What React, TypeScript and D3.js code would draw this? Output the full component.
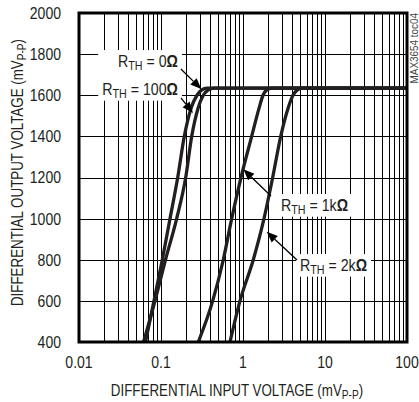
import React, { useEffect, useRef } from "react";
import * as d3 from "d3";

// tick labels
const xTickLabels = ["0.01", "0.1", "1", "10", "100"];
const yTickLabels = ["400", "600", "800", "1000", "1200", "1400", "1600", "1800", "2000"];

// output level (mVp-p) shared by the curves
const outLevels = [400, 600, 800, 1000, 1200, 1400, 1536, 1600, 1625, 1635, 1635];

// input (mVp-p) per source resistance
const rth0In = [0.0647, 0.0821, 0.1037, 0.1288, 0.1599, 0.1923, 0.2322, 0.2748, 0.3118, 0.3639, 100];
const rth100In = [0.0612, 0.0845, 0.1135, 0.1553, 0.2001, 0.2368, 0.2826, 0.328, 0.374, 0.443, 100];
const rth1kIn = [0.2851, 0.427, 0.575, 0.728, 0.9454, 1.276, 1.567, 1.754, 1.935, 2.258, 100];
const rth2kIn = [0.694, 0.919, 1.335, 1.803, 2.301, 2.884, 3.539, 4.072, 4.555, 5.24, 100];

// annotations
const labelText = ["0Ω", "100Ω", "1kΩ", "2kΩ"];
const labelIn = [0.161, 0.161, 2.905, 4.955];
const labelOut = [1737, 1601, 1037, 745];
const labelAnchor = ["end", "end", "start", "start"];
const labelGroup = [0, 0, 1, 2];
const tailIn = [0.175, 0.175, 2.195, 4.555];
const tailOut = [1728, 1587, 1110, 799];
const tipIn = [0.31, 0.2455, 1.01, 1.945];
const tipOut = [1630, 1514, 1240, 936];

const font = "'Liberation Sans', Arial, sans-serif";
const ink = "#231f20";

// narrow text: squeeze horizontally around its anchor point
const addText = (parent: any, tx: number, ty: number, sx: number, size: number, anchor: string, rotate = 0) =>
  parent
    .append("text")
    .attr("transform", `translate(${tx},${ty})${rotate ? ` rotate(${rotate})` : ""} scale(${sx},1)`)
    .attr("text-anchor", anchor)
    .attr("font-family", font)
    .attr("font-size", size)
    .attr("fill", ink);

const App = () => {
  const ref = useRef<SVGSVGElement>(null);

  useEffect(() => {
    const svg = d3.select(ref.current);
    svg.selectAll("*").remove();

    const left = 79, right = 407, top = 13, bottom = 342;

    const x = d3.scaleLog().domain([0.01, 100]).range([left, right]);
    const y = d3.scaleLinear().domain([400, 2000]).range([bottom, top]);

    svg.append("rect").attr("width", 419).attr("height", 402).attr("fill", "#fff");

    // grid
    const grid = svg.append("g").attr("stroke", "#000").attr("stroke-width", 1);
    grid
      .selectAll("line.v")
      .data(x.ticks().filter((d) => d > 0.01 && d < 100))
      .join("line")
      .attr("x1", (d) => Math.round(x(d)) + 0.5)
      .attr("x2", (d) => Math.round(x(d)) + 0.5)
      .attr("y1", top)
      .attr("y2", bottom);
    grid
      .selectAll("line.h")
      .data(yTickLabels.map(Number).filter((d) => d > 400 && d < 2000))
      .join("line")
      .attr("x1", left)
      .attr("x2", right)
      .attr("y1", (d) => Math.round(y(d)) + 0.5)
      .attr("y2", (d) => Math.round(y(d)) + 0.5);

    const boxLayer = svg.append("g");
    const curveLayer = svg.append("g");
    const frameLayer = svg.append("g");
    const arrowLayer = svg.append("g");
    const textLayer = svg.append("g");

    // labels, measured for the white boxes behind them
    const sxLabel = 0.86;
    const bboxes: { x0: number; x1: number; y0: number; y1: number }[][] = [[], [], []];
    labelText.forEach((t, i) => {
      const tx = x(labelIn[i]), ty = y(labelOut[i]);
      const txt = addText(textLayer, tx, ty, sxLabel, 16.5, labelAnchor[i]);
      txt.append("tspan").text("R");
      txt.append("tspan").attr("font-size", 12.5).attr("dy", 2.5).text("TH");
      txt.append("tspan").attr("dy", -2.5).text(" = " + t.slice(0, -1));
      txt.append("tspan").attr("font-weight", "bold").text("Ω");
      const b = (txt.node() as SVGTextElement).getBBox();
      bboxes[labelGroup[i]].push({
        x0: tx + b.x * sxLabel,
        x1: tx + (b.x + b.width) * sxLabel,
        y0: ty + b.y,
        y1: ty + b.y + b.height,
      });
    });
    bboxes.forEach((list) => {
      if (!list.length) return;
      const x0 = d3.min(list, (b) => b.x0)! - 4;
      const x1 = d3.max(list, (b) => b.x1)! + 4;
      const y0 = d3.min(list, (b) => b.y0)! - 2;
      const y1 = d3.max(list, (b) => b.y1)! + 1;
      boxLayer
        .append("rect")
        .attr("x", x0)
        .attr("y", y0)
        .attr("width", x1 - x0)
        .attr("height", y1 - y0)
        .attr("fill", "#fff");
    });

    // curves
    svg
      .append("clipPath")
      .attr("id", "plot-clip")
      .append("rect")
      .attr("x", left)
      .attr("y", top)
      .attr("width", right - left)
      .attr("height", bottom - top);

    const line = d3
      .line<[number, number]>()
      .x((d) => x(d[0]))
      .y((d) => y(d[1]))
      .curve(d3.curveMonotoneX);

    const series = [rth0In, rth100In, rth1kIn, rth2kIn].map((xs) =>
      xs.map((v, i) => [v, outLevels[i]] as [number, number])
    );
    curveLayer
      .attr("clip-path", "url(#plot-clip)")
      .selectAll("path")
      .data(series)
      .join("path")
      .attr("d", (d) => line(d))
      .attr("fill", "none")
      .attr("stroke", ink)
      .attr("stroke-width", 3.3)
      .attr("stroke-linejoin", "round");

    // frame
    frameLayer
      .append("rect")
      .attr("x", left)
      .attr("y", top)
      .attr("width", right - left)
      .attr("height", bottom - top)
      .attr("fill", "none")
      .attr("stroke", "#000")
      .attr("stroke-width", 3);

    // arrows
    labelText.forEach((_, i) => {
      const x0 = x(tailIn[i]), y0 = y(tailOut[i]);
      const x1 = x(tipIn[i]), y1 = y(tipOut[i]);
      const dx = x1 - x0, dy = y1 - y0;
      const len = Math.hypot(dx, dy);
      const ux = dx / len, uy = dy / len;
      const hl = 11, hw = 4.5;
      const bx = x1 - ux * hl, by = y1 - uy * hl;
      arrowLayer
        .append("line")
        .attr("x1", x0)
        .attr("y1", y0)
        .attr("x2", bx)
        .attr("y2", by)
        .attr("stroke", "#000")
        .attr("stroke-width", 1.3);
      arrowLayer
        .append("path")
        .attr("d", `M${x1},${y1}L${bx - uy * hw},${by + ux * hw}L${bx + uy * hw},${by - ux * hw}Z`)
        .attr("fill", "#000");
    });

    // tick labels
    xTickLabels.forEach((d) => {
      addText(svg, x(+d), 368, 0.85, 16.5, "middle").text(d);
    });
    yTickLabels.forEach((d) => {
      addText(svg, 61, y(+d), 0.85, 16.5, "end").attr("dy", "0.36em").text(d);
    });

    // axis titles
    const xt = addText(svg, 237, 396, 0.81, 16.5, "middle");
    xt.append("tspan").text("DIFFERENTIAL INPUT VOLTAGE (mV");
    xt.append("tspan").attr("font-size", 12.5).attr("dy", 2.5).text("P-P");
    xt.append("tspan").attr("dy", -2.5).text(")");

    const yt = addText(svg, 23, (top + bottom) / 2 - 5, 0.81, 16.5, "middle", -90);
    yt.append("tspan").text("DIFFERENTIAL OUTPUT VOLTAGE (mV");
    yt.append("tspan").attr("font-size", 12.5).attr("dy", 2.5).text("P-P");
    yt.append("tspan").attr("dy", -2.5).text(")");

    // figure id
    addText(svg, 418, top, 0.9, 11, "end", -90).attr("fill", "#444").text("MAX3654 toc04");
  }, []);

  return (
    <svg
      ref={ref}
      width={419}
      height={402}
      style={{ position: "absolute", left: 0, top: 0, display: "block" }}
    />
  );
};

export default App;
